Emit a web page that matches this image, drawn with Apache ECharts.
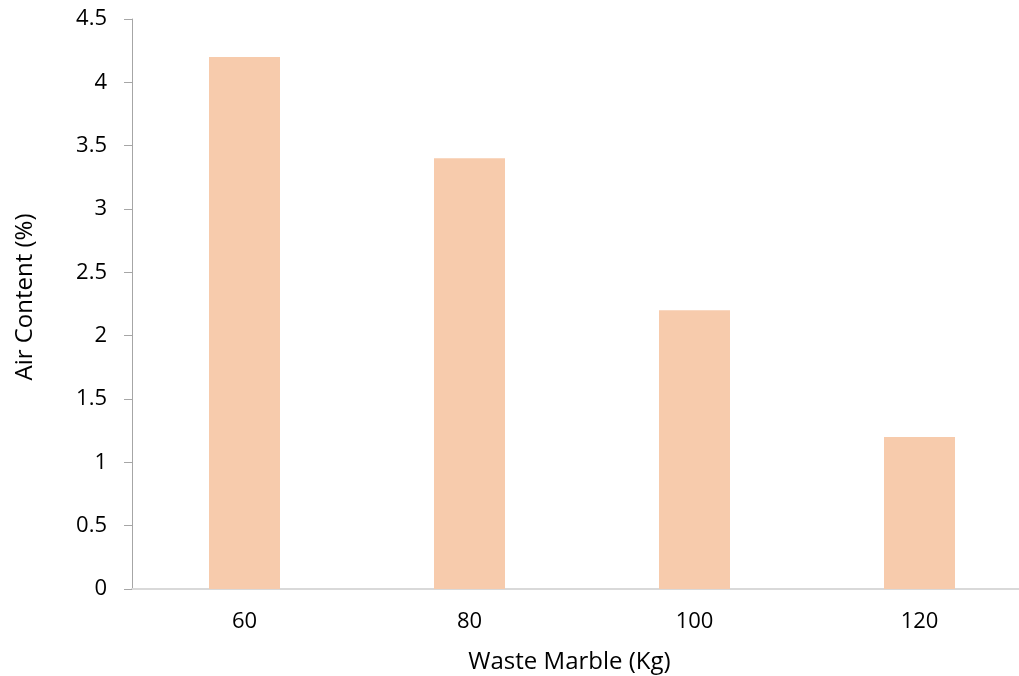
<!DOCTYPE html>
<html><head><meta charset="utf-8">
<script src="https://cdn.jsdelivr.net/npm/echarts@6/dist/echarts.min.js"></script>
<style>html,body{margin:0;padding:0;background:#fff}#c{width:1019px;height:676px}</style>
</head><body><div id="c"></div>
<script>
const categories = ['60', '80', '100', '120'];
const airContent = [4.2, 3.4, 2.2, 1.2];
const xTitle = 'Waste Marble (Kg)';
const yTitle = 'Air Content (%)';
const font = '"Open Sans", sans-serif';
const chart = echarts.init(document.getElementById('c'));
chart.setOption({
  animation: false,
  grid: { left: 132, width: 900, top: 19, bottom: 87, containLabel: false, outerBoundsMode: 'none' },
  xAxis: {
    type: 'category', data: categories,
    axisLine: { lineStyle: { color: '#d9d9d9', width: 2 } },
    axisTick: { show: false },
    axisLabel: { color: '#000', fontFamily: font, fontSize: 22, margin: 22 },
    name: xTitle, nameLocation: 'middle', nameGap: 61,
    nameTextStyle: { color: '#000', fontFamily: font, fontSize: 24, padding: [0, 25, 0, 0] }
  },
  yAxis: {
    type: 'value', min: 0, max: 4.5, interval: 0.5,
    axisLine: { show: true, lineStyle: { color: '#a6a6a6', width: 1 } },
    axisTick: { show: true, length: 8, lineStyle: { color: '#a6a6a6' } },
    splitLine: { show: false },
    axisLabel: { color: '#000', fontFamily: font, fontSize: 22, margin: 25 },
    name: yTitle, nameLocation: 'middle', nameGap: 95,
    nameTextStyle: { color: '#000', fontFamily: font, fontSize: 24, padding: [0, 0, 0, 14] }
  },
  series: [{
    type: 'bar', data: airContent, barWidth: 71,
    itemStyle: { color: '#f7cbac' }
  }]
});
</script></body></html>
